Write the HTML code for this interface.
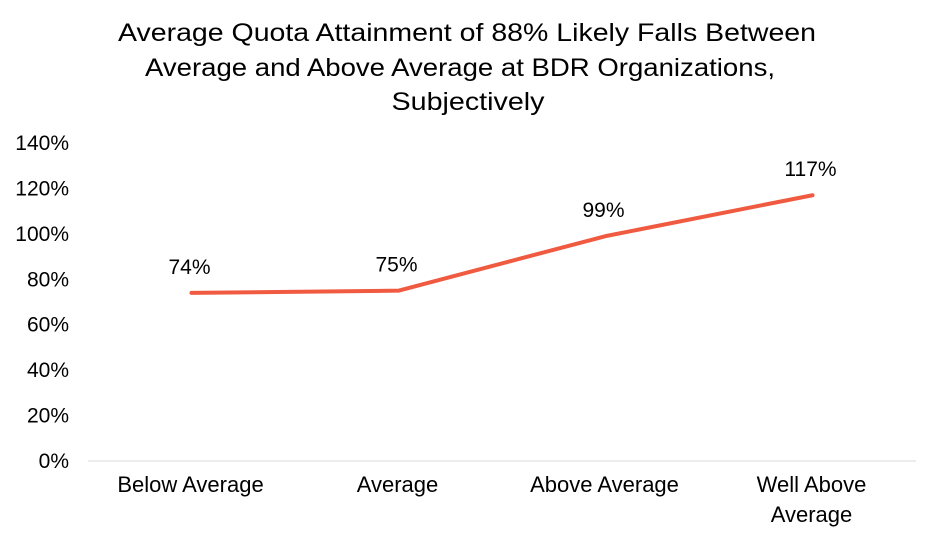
<!DOCTYPE html>
<html><head><meta charset="utf-8"><style>
body{margin:0;background:#fff;}
svg{display:block;font-family:"Liberation Sans",sans-serif;}
</style></head><body>
<svg id="chart" width="936" height="540">
<g font-size="25" text-anchor="middle" fill="#000" lengthAdjust="spacingAndGlyphs">
<text x="467" y="41" textLength="698" lengthAdjust="spacingAndGlyphs">Average Quota Attainment of 88% Likely Falls Between</text>
<text x="460" y="76" textLength="630" lengthAdjust="spacingAndGlyphs">Average and Above Average at BDR Organizations,</text>
<text x="468" y="110" textLength="153" lengthAdjust="spacingAndGlyphs">Subjectively</text>
</g>
<g id="yaxis"></g>
<g id="xaxis"></g>
<g id="series"></g>
</svg>
<script>
const categories=[["Below Average"],["Average"],["Above Average"],["Well Above","Average"]];
const values=[74,75,99,117];
const valueLabels=["74%","75%","99%","117%"];
const yTicks=[0,20,40,60,80,100,120,140];
const ns="http://www.w3.org/2000/svg";
const L=88,R=916,T=143,B=461,YMAX=140;
const y=v=>B-(v/YMAX)*(B-T);
const band=(R-L)/categories.length;
const x=i=>L+band*(i+0.5);
function mk(t,a,p){const e=document.createElementNS(ns,t);for(const k in a)e.setAttribute(k,a[k]);p.appendChild(e);return e;}
const ya=document.getElementById('yaxis'),xa=document.getElementById('xaxis'),s=document.getElementById('series');
yTicks.forEach(v=>{const t=mk('text',{x:69,y:y(v)+7,'text-anchor':'end','font-size':21,fill:'#000'},ya);


t.textContent=v+'%';});
const ax=mk('line',{x1:L,x2:R,y1:B,y2:B,stroke:'#d9d9d9','stroke-width':1},xa);


categories.forEach((c,i)=>{c.forEach((ln,j)=>{const t=mk('text',{x:x(i)-1,y:492+j*30,'text-anchor':'middle','font-size':22,fill:'#000','transform':''},xa);


t.textContent=ln;});});
const p=mk('polyline',{points:values.map((v,i)=>x(i)+','+y(v)).join(' '),fill:'none',stroke:'#F05A40','stroke-width':4,'stroke-linecap':'round','stroke-linejoin':'round'},s);


values.forEach((v,i)=>{const t=mk('text',{x:x(i)-2,y:y(v)-19,'text-anchor':'middle','font-size':21,fill:'#000'},s);


t.textContent=valueLabels[i];});
</script>
</body></html>
